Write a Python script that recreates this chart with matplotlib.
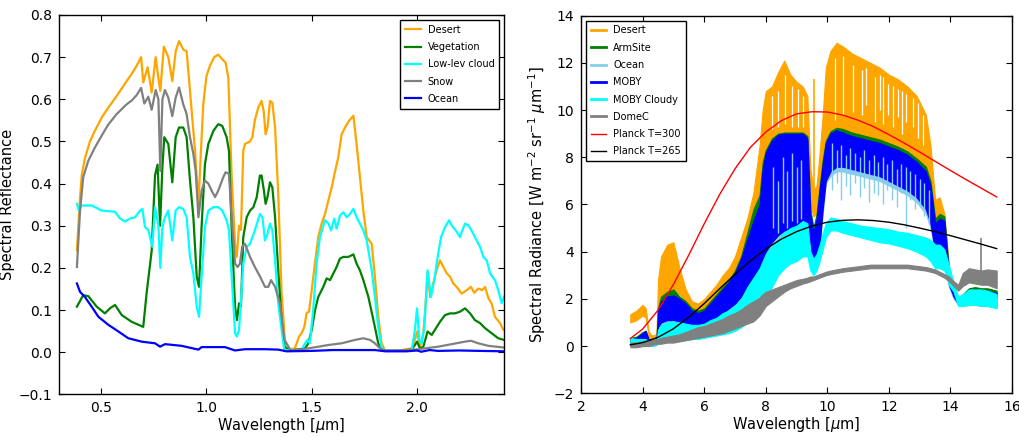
"""
Two-panel spectra figure: solar-band surface reflectance (left) and
thermal-IR spectral radiance for several scenes with Planck curves (right).
"""

import matplotlib
matplotlib.use("Agg")
import matplotlib.pyplot as plt

# ---------------------------------------------------------------- left panel
desert_wl = [0.385, 0.40, 0.408, 0.423, 0.447, 0.47, 0.503, 0.534, 0.574, 0.621,
             0.645, 0.669, 0.69, 0.70, 0.721, 0.74, 0.759, 0.772, 0.781, 0.798,
             0.819, 0.838, 0.854, 0.87, 0.89, 0.906, 0.917, 0.93, 0.946, 0.962,
             0.974, 0.985, 1.0, 1.017, 1.037, 1.056, 1.075, 1.091, 1.104, 1.12,
             1.136, 1.144, 1.155, 1.164, 1.175, 1.183, 1.207, 1.218, 1.23, 1.246,
             1.262, 1.272, 1.281, 1.29, 1.302, 1.313, 1.326, 1.341, 1.357, 1.376,
             1.42, 1.44, 1.452, 1.465, 1.476, 1.487, 1.50, 1.515, 1.531, 1.547,
             1.563, 1.579, 1.595, 1.61, 1.626, 1.642, 1.658, 1.677, 1.698, 1.713,
             1.729, 1.745, 1.761, 1.785, 1.80, 1.816, 1.832, 1.848, 1.90, 1.975,
             1.99, 2.0, 2.014, 2.03, 2.041, 2.05, 2.062, 2.077, 2.093, 2.109,
             2.125, 2.141, 2.157, 2.172, 2.188, 2.212, 2.236, 2.256, 2.272, 2.291,
             2.31, 2.323, 2.339, 2.354, 2.37, 2.394, 2.41]
desert_refl = [0.242, 0.368, 0.42, 0.46, 0.50, 0.525, 0.557, 0.58, 0.608, 0.643,
               0.66, 0.68, 0.70, 0.64, 0.676, 0.616, 0.70, 0.65, 0.62, 0.725,
               0.70, 0.643, 0.714, 0.738, 0.718, 0.714, 0.65, 0.572, 0.478, 0.352,
               0.478, 0.588, 0.655, 0.68, 0.70, 0.706, 0.695, 0.687, 0.651, 0.415,
               0.257, 0.226, 0.30, 0.29, 0.478, 0.494, 0.50, 0.51, 0.55, 0.58,
               0.596, 0.572, 0.517, 0.533, 0.596, 0.592, 0.533, 0.376, 0.14, 0.005,
               0.009, 0.037, 0.045, 0.06, 0.093, 0.096, 0.147, 0.21, 0.273, 0.305,
               0.328, 0.36, 0.391, 0.427, 0.462, 0.517, 0.533, 0.549, 0.561, 0.494,
               0.415, 0.336, 0.273, 0.257, 0.179, 0.084, 0.021, 0.004, 0.003, 0.009,
               0.029, 0.049, 0.013, 0.045, 0.116, 0.19, 0.131, 0.163, 0.194, 0.218,
               0.202, 0.187, 0.179, 0.163, 0.155, 0.139, 0.147, 0.155, 0.141, 0.151,
               0.147, 0.155, 0.128, 0.116, 0.084, 0.069, 0.053]

veg_wl = [0.385, 0.415, 0.439, 0.479, 0.518, 0.542, 0.566, 0.598, 0.645, 0.70,
          0.716, 0.74, 0.756, 0.768, 0.78, 0.791, 0.80, 0.819, 0.838, 0.854,
          0.87, 0.89, 0.906, 0.922, 0.938, 0.954, 0.965, 0.977, 0.993, 1.009,
          1.033, 1.056, 1.075, 1.096, 1.107, 1.12, 1.136, 1.145, 1.155, 1.164,
          1.175, 1.191, 1.207, 1.223, 1.239, 1.254, 1.262, 1.273, 1.281, 1.29,
          1.302, 1.313, 1.326, 1.341, 1.357, 1.37, 1.40, 1.468, 1.484, 1.50,
          1.516, 1.531, 1.555, 1.571, 1.587, 1.603, 1.618, 1.634, 1.65, 1.674,
          1.698, 1.713, 1.729, 1.745, 1.769, 1.793, 1.816, 1.832, 1.90, 1.975,
          1.99, 2.0, 2.014, 2.03, 2.05, 2.07, 2.085, 2.109, 2.133, 2.157,
          2.18, 2.204, 2.228, 2.252, 2.275, 2.299, 2.323, 2.354, 2.386, 2.413]
veg_refl = [0.108, 0.135, 0.133, 0.108, 0.092, 0.104, 0.112, 0.088, 0.072, 0.06,
            0.14, 0.24, 0.42, 0.445, 0.30, 0.44, 0.51, 0.494, 0.403, 0.51,
            0.533, 0.533, 0.51, 0.407, 0.32, 0.179, 0.155, 0.297, 0.446, 0.494,
            0.525, 0.541, 0.537, 0.51, 0.478, 0.29, 0.108, 0.076, 0.116, 0.108,
            0.273, 0.32, 0.336, 0.344, 0.368, 0.419, 0.419, 0.383, 0.352, 0.368,
            0.403, 0.391, 0.32, 0.194, 0.076, 0.013, 0.004, 0.009, 0.021, 0.053,
            0.10, 0.131, 0.155, 0.175, 0.171, 0.187, 0.202, 0.222, 0.226, 0.226,
            0.232, 0.21, 0.194, 0.171, 0.131, 0.076, 0.021, 0.004, 0.003, 0.006,
            0.017, 0.025, 0.009, 0.013, 0.049, 0.041, 0.053, 0.072, 0.088, 0.092,
            0.092, 0.096, 0.104, 0.092, 0.076, 0.069, 0.057, 0.045, 0.033, 0.029]

cloud_wl = [0.385, 0.395, 0.408, 0.455, 0.503, 0.566, 0.59, 0.613, 0.637, 0.661,
            0.685, 0.696, 0.708, 0.724, 0.743, 0.756, 0.772, 0.781, 0.791, 0.803,
            0.819, 0.838, 0.854, 0.87, 0.89, 0.906, 0.922, 0.938, 0.954, 0.965,
            0.977, 0.993, 1.009, 1.033, 1.056, 1.075, 1.096, 1.107, 1.12, 1.136,
            1.145, 1.155, 1.164, 1.175, 1.191, 1.207, 1.23, 1.254, 1.266, 1.278,
            1.29, 1.302, 1.313, 1.326, 1.341, 1.357, 1.37, 1.40, 1.452, 1.468,
            1.48, 1.491, 1.507, 1.523, 1.539, 1.563, 1.579, 1.592, 1.607, 1.618,
            1.634, 1.65, 1.666, 1.682, 1.698, 1.713, 1.729, 1.745, 1.761, 1.785,
            1.80, 1.816, 1.832, 1.848, 1.90, 1.975, 1.99, 2.0, 2.011, 2.022,
            2.035, 2.05, 2.066, 2.082, 2.098, 2.114, 2.133, 2.152, 2.165, 2.184,
            2.204, 2.215, 2.228, 2.244, 2.263, 2.283, 2.299, 2.315, 2.331, 2.347,
            2.358, 2.37, 2.386, 2.402, 2.413]
cloud_refl = [0.352, 0.336, 0.348, 0.348, 0.336, 0.333, 0.317, 0.31, 0.317, 0.32,
              0.336, 0.34, 0.297, 0.29, 0.25, 0.344, 0.30, 0.20, 0.297, 0.32,
              0.336, 0.265, 0.336, 0.344, 0.34, 0.32, 0.226, 0.187, 0.108, 0.084,
              0.179, 0.297, 0.336, 0.344, 0.344, 0.336, 0.313, 0.289, 0.179, 0.045,
              0.037, 0.053, 0.124, 0.21, 0.25, 0.257, 0.289, 0.328, 0.32, 0.265,
              0.281, 0.305, 0.289, 0.218, 0.116, 0.053, 0.005, 0.004, 0.005, 0.021,
              0.029, 0.021, 0.10, 0.21, 0.273, 0.313, 0.305, 0.289, 0.317, 0.293,
              0.324, 0.332, 0.32, 0.328, 0.34, 0.32, 0.305, 0.289, 0.265, 0.194,
              0.131, 0.06, 0.01, 0.004, 0.003, 0.005, 0.053, 0.104, 0.029, 0.021,
              0.06, 0.194, 0.131, 0.171, 0.226, 0.273, 0.297, 0.313, 0.30, 0.289,
              0.273, 0.289, 0.305, 0.301, 0.285, 0.265, 0.25, 0.226, 0.218, 0.187,
              0.179, 0.171, 0.147, 0.116, 0.131]

snow_wl = [0.385, 0.40, 0.415, 0.439, 0.471, 0.503, 0.534, 0.574, 0.621, 0.645,
           0.669, 0.69, 0.705, 0.724, 0.74, 0.759, 0.772, 0.781, 0.791, 0.803,
           0.819, 0.838, 0.854, 0.87, 0.89, 0.906, 0.922, 0.938, 0.949, 0.962,
           0.977, 0.993, 1.009, 1.025, 1.041, 1.056, 1.08, 1.091, 1.107, 1.12,
           1.136, 1.148, 1.159, 1.17, 1.183, 1.207, 1.23, 1.254, 1.278, 1.294,
           1.307, 1.326, 1.349, 1.37, 1.40, 1.484, 1.532, 1.579, 1.642, 1.705,
           1.745, 1.777, 1.80, 1.824, 1.848, 1.975, 2.038, 2.10, 2.165, 2.228,
           2.256, 2.291, 2.339, 2.413]
snow_refl = [0.202, 0.336, 0.415, 0.454, 0.486, 0.514, 0.54, 0.565, 0.588, 0.597,
             0.61, 0.627, 0.59, 0.606, 0.575, 0.622, 0.60, 0.43, 0.60, 0.622,
             0.604, 0.56, 0.604, 0.628, 0.588, 0.565, 0.51, 0.47, 0.43, 0.32,
             0.383, 0.407, 0.40, 0.383, 0.368, 0.383, 0.415, 0.427, 0.423, 0.32,
             0.21, 0.202, 0.21, 0.25, 0.257, 0.226, 0.202, 0.18, 0.155, 0.155,
             0.171, 0.155, 0.116, 0.03, 0.004, 0.009, 0.013, 0.017, 0.021, 0.029,
             0.033, 0.029, 0.021, 0.009, 0.004, 0.005, 0.009, 0.013, 0.019, 0.025,
             0.027, 0.021, 0.015, 0.011]

ocean_wl = [0.385, 0.40, 0.423, 0.455, 0.487, 0.534, 0.582, 0.629, 0.692, 0.756,
            0.78, 0.803, 0.843, 0.882, 0.962, 0.977, 1.088, 1.136, 1.183, 1.278,
            1.341, 1.38, 1.50, 1.60, 1.80, 1.85, 1.95, 2.0, 2.02, 2.06,
            2.10, 2.20, 2.30, 2.413]
ocean_refl = [0.163, 0.143, 0.131, 0.108, 0.084, 0.065, 0.049, 0.033, 0.025, 0.021,
              0.013, 0.019, 0.017, 0.015, 0.006, 0.012, 0.012, 0.004, 0.007, 0.007,
              0.006, 0.002, 0.003, 0.005, 0.005, 0.002, 0.002, 0.004, 0.001, 0.005,
              0.003, 0.004, 0.003, 0.002]

# --------------------------------------------------------------- right panel
# dense spectra are drawn as bands between a lower and upper envelope
rad_wl = [3.6, 3.8, 4.0, 4.1, 4.2, 4.3, 4.45, 4.5, 4.6, 4.8,
          5.0, 5.2, 5.4, 5.6, 5.8, 6.0, 6.2, 6.4, 6.6, 6.8,
          7.0, 7.2, 7.4, 7.6, 7.8, 7.9, 8.0, 8.2, 8.4, 8.6,
          8.8, 9.0, 9.2, 9.35, 9.45, 9.55, 9.65, 9.75, 9.85, 9.95,
          10.1, 10.3, 10.5, 10.8, 11.1, 11.4, 11.7, 12.0, 12.3, 12.6,
          12.9, 13.2, 13.35, 13.5, 13.65, 13.8, 13.95, 14.1, 14.25, 14.4,
          14.6, 14.8, 15.0, 15.2, 15.5]

desert_hi = [1.35, 1.5, 1.75, 1.6, 0.6, 0.45, 0.5, 2.8, 3.8, 4.3,
             4.4, 3.3, 2.4, 1.9, 1.8, 2.0, 2.3, 2.6, 3.0, 3.3,
             3.8, 4.6, 5.4, 6.5, 8.5, 10.0, 10.8, 11.0, 11.6, 12.1,
             11.5, 11.2, 11.0, 10.6, 7.5, 6.6, 6.8, 8.2, 9.8, 11.8,
             12.5, 12.85, 12.7, 12.4, 12.2, 12.0, 11.8, 11.5, 11.3, 11.0,
             10.6, 9.8, 8.5, 6.2, 6.3, 5.6, 3.4, 2.5, 2.0, 2.1,
             2.35, 2.4, 2.4, 2.35, 2.2]
desert_lo = [1.0, 1.1, 1.3, 1.2, 0.4, 0.3, 0.35, 1.5, 2.0, 2.3,
             2.4, 2.2, 1.9, 1.5, 1.3, 1.5, 1.8, 2.0, 2.4, 2.7,
             3.1, 3.8, 4.4, 5.2, 6.5, 7.5, 8.0, 8.5, 8.7, 8.8,
             8.8, 8.8, 8.9, 8.5, 6.0, 5.5, 5.6, 6.5, 7.0, 8.5,
             9.0, 9.2, 9.1, 9.0, 8.9, 8.8, 8.7, 8.6, 8.5, 8.3,
             8.0, 7.5, 6.8, 5.0, 4.5, 4.0, 2.8, 2.2, 1.8, 1.7,
             1.75, 1.75, 1.7, 1.7, 1.65]

armsite_hi = [0.35, 0.4, 0.6, 0.65, 0.3, 0.25, 0.3, 1.6, 2.1, 2.3,
              2.4, 2.1, 1.9, 1.6, 1.5, 1.6, 1.9, 2.2, 2.5, 2.8,
              3.2, 3.8, 4.8, 5.8, 6.4, 7.8, 8.3, 8.8, 9.0, 9.05,
              9.05, 9.05, 9.05, 8.9, 5.8, 5.0, 5.6, 6.8, 7.9, 8.7,
              9.1, 9.25, 9.2, 9.05, 8.95, 8.85, 8.75, 8.6, 8.45, 8.25,
              7.95, 7.6, 7.0, 5.4, 5.6, 5.5, 3.2, 2.5, 2.0, 2.2,
              2.45, 2.5, 2.45, 2.45, 2.35]
armsite_lo = [0.2, 0.25, 0.35, 0.4, 0.2, 0.15, 0.2, 0.9, 1.1, 1.2,
              1.2, 1.1, 1.0, 0.95, 0.9, 0.95, 1.1, 1.3, 1.5, 1.7,
              1.9, 2.2, 2.6, 2.9, 3.4, 3.7, 4.1, 4.5, 4.8, 5.0,
              5.1, 5.2, 5.3, 5.1, 3.7, 3.4, 3.7, 4.4, 5.9, 7.1,
              7.5, 7.7, 7.7, 7.6, 7.5, 7.4, 7.3, 7.1, 6.9, 6.7,
              6.4, 5.9, 5.3, 4.1, 4.1, 4.0, 2.7, 2.2, 1.85, 1.95,
              2.2, 2.25, 2.2, 2.2, 2.1]

ocean_hi = [0.28, 0.33, 0.5, 0.6, 0.22, 0.18, 0.22, 1.4, 1.8, 2.0,
            2.05, 1.9, 1.7, 1.45, 1.35, 1.45, 1.7, 2.0, 2.3, 2.6,
            3.0, 3.6, 4.3, 5.1, 5.8, 7.2, 7.9, 8.4, 8.6, 8.7,
            8.7, 8.7, 8.7, 8.5, 5.4, 4.6, 5.2, 6.4, 7.5, 8.3,
            8.7, 8.85, 8.75, 8.6, 8.5, 8.4, 8.3, 8.15, 8.0, 7.8,
            7.5, 7.1, 6.5, 5.0, 5.2, 5.1, 2.9, 2.3, 1.85, 2.05,
            2.3, 2.35, 2.3, 2.3, 2.2]
ocean_lo = [0.1, 0.15, 0.25, 0.3, 0.1, 0.08, 0.1, 0.7, 0.9, 1.0,
            1.0, 0.95, 0.9, 0.85, 0.8, 0.85, 0.95, 1.1, 1.3, 1.5,
            1.7, 2.0, 2.4, 2.7, 3.1, 3.4, 3.8, 4.2, 4.5, 4.7,
            4.8, 4.9, 5.0, 4.8, 3.5, 3.2, 3.5, 4.2, 5.6, 6.9,
            7.2, 7.4, 7.4, 7.3, 7.2, 7.1, 7.0, 6.8, 6.6, 6.4,
            6.1, 5.6, 5.0, 3.9, 3.9, 3.8, 2.5, 2.0, 1.75, 1.85,
            2.1, 2.15, 2.1, 2.1, 2.0]

moby_hi = [0.3, 0.35, 0.55, 0.65, 0.25, 0.2, 0.25, 1.5, 1.9, 2.1,
           2.15, 2.0, 1.8, 1.5, 1.4, 1.5, 1.8, 2.1, 2.4, 2.7,
           3.1, 3.7, 4.5, 5.3, 6.0, 7.5, 8.2, 8.7, 8.95, 9.0,
           9.0, 9.0, 9.0, 8.8, 5.6, 4.8, 5.4, 6.6, 7.7, 8.6,
           9.0, 9.15, 9.05, 8.9, 8.8, 8.7, 8.6, 8.45, 8.3, 8.1,
           7.8, 7.4, 6.8, 5.2, 5.4, 5.3, 3.0, 2.4, 1.9, 2.1,
           2.35, 2.4, 2.35, 2.35, 2.25]
moby_lo = [0.15, 0.2, 0.3, 0.35, 0.15, 0.1, 0.15, 0.8, 1.0, 1.1,
           1.1, 1.0, 0.95, 0.9, 0.85, 0.9, 1.0, 1.2, 1.4, 1.6,
           1.8, 2.1, 2.5, 2.8, 3.3, 3.6, 4.0, 4.4, 4.7, 4.9,
           5.0, 5.1, 5.2, 5.0, 3.6, 3.3, 3.6, 4.3, 5.8, 7.0,
           7.4, 7.6, 7.6, 7.5, 7.4, 7.3, 7.2, 7.0, 6.8, 6.6,
           6.3, 5.8, 5.2, 4.0, 4.0, 3.9, 2.6, 2.1, 1.8, 1.9,
           2.15, 2.2, 2.15, 2.15, 2.05]

cloudy_hi = [0.35, 0.3, 0.3, 0.3, 0.15, 0.12, 0.2, 0.7, 0.9, 1.0,
             1.05, 1.0, 0.95, 0.9, 0.9, 0.95, 1.1, 1.2, 1.4, 1.5,
             1.7, 2.0, 2.5, 2.9, 3.3, 3.6, 3.9, 4.2, 4.5, 4.8,
             5.0, 5.1, 5.3, 5.2, 4.0, 3.7, 3.9, 4.3, 4.8, 5.2,
             5.45, 5.4, 5.3, 5.2, 5.1, 5.05, 5.0, 4.95, 4.85, 4.8,
             4.7, 4.6, 4.5, 4.3, 4.3, 4.1, 3.4, 2.7, 2.1, 2.2,
             2.4, 2.4, 2.4, 2.35, 2.2]
cloudy_lo = [0.1, 0.1, 0.1, 0.1, 0.03, 0.0, 0.05, 0.1, 0.2, 0.25,
             0.25, 0.25, 0.25, 0.3, 0.3, 0.35, 0.4, 0.45, 0.5, 0.55,
             0.65, 0.8, 1.0, 1.2, 1.5, 1.8, 2.0, 2.5, 3.0, 3.3,
             3.5, 3.6, 3.8, 3.8, 3.2, 3.0, 3.2, 3.6, 4.1, 4.6,
             4.9, 4.9, 4.8, 4.7, 4.6, 4.5, 4.4, 4.35, 4.25, 4.15,
             4.0, 3.8, 3.6, 3.3, 3.3, 3.2, 2.6, 2.3, 1.7, 1.7,
             1.75, 1.75, 1.7, 1.7, 1.6]

domec_hi = [0.15, 0.15, 0.2, 0.2, 0.2, 0.25, 0.3, 0.3, 0.35, 0.4,
            0.45, 0.5, 0.6, 0.7, 0.8, 0.85, 0.95, 1.05, 1.15, 1.3,
            1.4, 1.55, 1.75, 1.9, 2.05, 2.2, 2.3, 2.4, 2.5, 2.6,
            2.7, 2.8, 2.85, 2.9, 2.95, 2.95, 3.0, 3.05, 3.1, 3.15,
            3.2, 3.25, 3.3, 3.35, 3.4, 3.45, 3.45, 3.45, 3.45, 3.45,
            3.4, 3.35, 3.3, 3.25, 3.15, 3.05, 2.95, 2.75, 2.6, 3.1,
            3.3, 3.25, 3.2, 3.25, 3.2]
domec_lo = [-0.05, -0.05, 0.0, 0.0, 0.0, 0.05, 0.1, 0.1, 0.1, 0.15,
            0.15, 0.2, 0.25, 0.3, 0.35, 0.4, 0.45, 0.5, 0.55, 0.65,
            0.75, 0.85, 0.95, 1.05, 1.3, 1.5, 1.7, 1.9, 2.1, 2.3,
            2.45, 2.55, 2.65, 2.7, 2.75, 2.8, 2.85, 2.9, 2.95, 3.0,
            3.05, 3.1, 3.15, 3.2, 3.25, 3.3, 3.3, 3.3, 3.3, 3.3,
            3.25, 3.2, 3.15, 3.1, 3.0, 2.9, 2.75, 2.55, 2.35, 2.55,
            2.7, 2.65, 2.6, 2.6, 2.45]

# narrow absorption lines / spikes that stick out of the bands
desert_gap_wl = [8.19, 8.40, 8.62, 8.84, 9.05, 9.22, 10.24, 10.52, 10.84, 11.11,
                 11.27, 11.54, 11.70, 11.81, 11.98, 12.14, 12.30, 12.41, 12.57, 12.79,
                 12.95, 13.11]
desert_gap_lo = [9.2, 9.3, 9.4, 9.3, 9.3, 9.3, 9.6, 9.8, 9.9, 9.8,
                 10.2, 9.5, 10.0, 9.4, 9.8, 9.3, 9.7, 9.0, 9.5, 9.3,
                 8.8, 8.5]
desert_gap_hi = [10.6, 10.8, 11.5, 11.0, 10.9, 10.6, 12.2, 12.3, 11.9, 11.7,
                 11.8, 11.4, 11.5, 11.4, 11.1, 11.0, 10.9, 10.8, 10.7, 10.5,
                 10.3, 9.8]
ocean_line_wl = [8.25, 8.40, 8.55, 8.70, 8.85, 9.00, 9.15, 10.15, 10.30, 10.45,
                 10.60, 10.75, 10.90, 11.05, 11.20, 11.35, 11.50, 11.65, 11.80, 11.95,
                 12.10, 12.25, 12.40, 12.55, 12.70, 12.85, 13.00, 13.15, 13.30]
ocean_line_lo = [5.0, 4.8, 5.2, 5.0, 5.3, 5.2, 5.4, 6.6, 6.9, 6.2,
                 6.8, 6.4, 6.9, 6.3, 6.7, 6.1, 6.5, 6.4, 6.0, 6.6,
                 6.2, 5.9, 6.5, 5.0, 6.2, 5.8, 6.0, 5.5, 5.2]
ocean_line_hi = [7.6, 7.0, 8.0, 7.4, 8.2, 7.6, 7.9, 8.6, 8.3, 8.5,
                 8.1, 8.4, 8.2, 8.0, 8.3, 7.9, 8.1, 7.8, 8.0, 7.7,
                 7.9, 7.5, 7.7, 7.6, 7.4, 7.3, 7.1, 6.9, 6.6]
desert_spike_wl = [9.57]
desert_spike_lo = [6.0]
desert_spike_hi = [11.3]
domec_spike_wl = [14.98]
domec_spike_lo = [3.0]
domec_spike_hi = [4.6]

planck_wl = [3.6, 4.0, 4.5, 5.0, 5.5, 6.0, 6.5, 7.0, 7.5, 8.0,
             8.5, 9.0, 9.5, 10.0, 10.5, 11.0, 11.5, 12.0, 12.5, 13.0,
             13.5, 14.0, 14.5, 15.0, 15.5]
planck_300 = [0.32, 0.72, 1.52, 2.61, 3.86, 5.18, 6.42, 7.51, 8.42, 9.07,
              9.55, 9.84, 9.93, 9.92, 9.79, 9.57, 9.30, 8.96, 8.60, 8.22,
              7.83, 7.44, 7.06, 6.69, 6.32]
planck_265 = [0.055, 0.148, 0.373, 0.733, 1.226, 1.80, 2.43, 3.04, 3.61, 4.11,
              4.53, 4.85, 5.09, 5.25, 5.33, 5.35, 5.32, 5.25, 5.14, 5.00,
              4.85, 4.68, 4.50, 4.32, 4.13]


def style_axes(ax):
    ax.tick_params(direction="in", top=True, right=True, length=4, width=0.8,
                   labelsize=10, pad=5)
    for s in ax.spines.values():
        s.set_linewidth(1.0)


def add_legend(ax, loc):
    leg = ax.legend(loc=loc, fontsize=7, handlelength=1.6, labelspacing=0.75,
                    borderpad=0.5, handletextpad=0.7, fancybox=False, framealpha=1.0)
    leg.get_frame().set_edgecolor("black")
    leg.get_frame().set_linewidth(1.0)
    leg.set_zorder(20)


def plot_reflectance(ax):
    lw = 1.6
    ax.plot(desert_wl, desert_refl, color="orange", lw=lw, label="Desert")
    ax.plot(veg_wl, veg_refl, color="green", lw=lw, label="Vegetation")
    ax.plot(cloud_wl, cloud_refl, color="cyan", lw=lw, label="Low-lev cloud")
    ax.plot(snow_wl, snow_refl, color="gray", lw=lw, label="Snow")
    ax.plot(ocean_wl, ocean_refl, color="blue", lw=lw, label="Ocean")

    ax.set_xlim(0.3, 2.413)
    ax.set_ylim(-0.1, 0.8)
    ax.set_xticks([0.5, 1.0, 1.5, 2.0])
    ax.set_yticks([-0.1, 0.0, 0.1, 0.2, 0.3, 0.4, 0.5, 0.6, 0.7, 0.8])
    ax.set_xlabel(r"Wavelength [$\mu$m]", fontsize=10.5)
    ax.set_ylabel("Spectral Reflectance", fontsize=10.5)
    ax.xaxis.set_label_coords(0.5, -0.058)
    ax.yaxis.set_label_coords(-0.098, 0.5)
    style_axes(ax)
    add_legend(ax, "upper right")


def band(ax, lo, hi, color, label, z):
    ax.fill_between(rad_wl, lo, hi, color=color, lw=0.8, edgecolor=color, zorder=z)
    ax.plot([], [], color=color, lw=2, label=label)


def plot_radiance(ax):
    band(ax, desert_lo, desert_hi, "orange", "Desert", 1)
    ax.vlines(desert_spike_wl, desert_spike_lo, desert_spike_hi, color="orange",
              lw=1.2, zorder=1.1)
    ax.vlines(desert_gap_wl, desert_gap_lo, desert_gap_hi, color="white",
              lw=0.9, zorder=1.2)
    band(ax, armsite_lo, armsite_hi, "green", "ArmSite", 2)
    band(ax, ocean_lo, ocean_hi, "skyblue", "Ocean", 3)
    band(ax, moby_lo, moby_hi, "blue", "MOBY", 4)
    ax.vlines(ocean_line_wl, ocean_line_lo, ocean_line_hi, color="skyblue",
              lw=1.0, zorder=4.5)
    band(ax, cloudy_lo, cloudy_hi, "cyan", "MOBY Cloudy", 5)
    band(ax, domec_lo, domec_hi, "gray", "DomeC", 6)
    ax.vlines(domec_spike_wl, domec_spike_lo, domec_spike_hi, color="gray",
              lw=1.2, zorder=6.1)
    ax.plot(planck_wl, planck_300, color="red", lw=1.0, label="Planck T=300", zorder=7)
    ax.plot(planck_wl, planck_265, color="black", lw=1.0, label="Planck T=265", zorder=8)

    ax.set_xlim(2, 16)
    ax.set_ylim(-2, 14)
    ax.set_xticks(range(2, 17, 2))
    ax.set_yticks(range(-2, 15, 2))
    ax.set_xlabel(r"Wavelength [$\mu$m]", fontsize=10.5)
    ax.set_ylabel(r"Spectral Radiance [W m$^{-2}$ sr$^{-1}$ $\mu$m$^{-1}$]",
                  fontsize=10.5)
    ax.xaxis.set_label_coords(0.5, -0.058)
    ax.yaxis.set_label_coords(-0.077, 0.5)
    style_axes(ax)
    add_legend(ax, "upper left")


def main():
    fig = plt.figure(figsize=(10.19, 4.37), dpi=100)
    ax_left = fig.add_axes([0.0579, 0.0977, 0.4367, 0.8680])
    ax_right = fig.add_axes([0.5702, 0.1000, 0.4230, 0.8641])
    plot_reflectance(ax_left)
    plot_radiance(ax_right)
    fig.savefig("out.png", dpi=100)


if __name__ == "__main__":
    main()
